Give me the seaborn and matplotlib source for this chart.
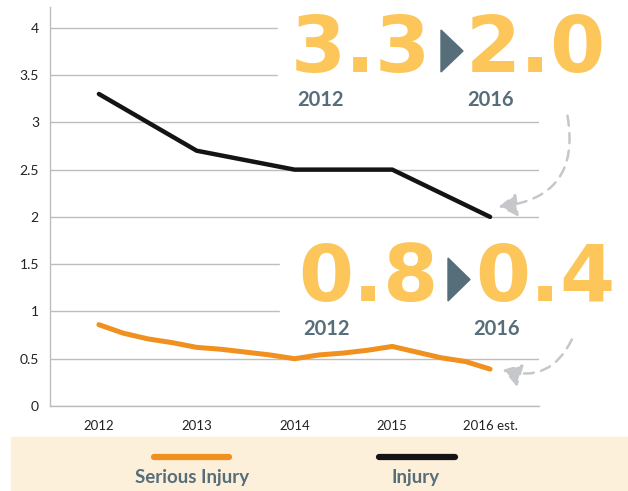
import matplotlib

matplotlib.use("Agg")

import matplotlib.pyplot as plt
import seaborn as sns
from matplotlib.lines import Line2D
from matplotlib.patches import FancyArrowPatch, Polygon, Rectangle

years = ["2012", "2013", "2014", "2015", "2016 est."]
injury = [3.3, 2.7, 2.5, 2.5, 2.0]

serious_x = [0, 0.25, 0.5, 0.75, 1, 1.25, 1.5, 1.75, 2, 2.25, 2.5, 2.75, 3, 3.25, 3.5, 3.75, 4]
serious = [0.86, 0.77, 0.71, 0.67, 0.62, 0.60, 0.57, 0.54, 0.50, 0.54, 0.56, 0.59, 0.63, 0.57, 0.51, 0.47, 0.39]

ORANGE = "#F0901E"
BLACK = "#141414"
YELLOW = "#FDC65A"
SLATE = "#566E7A"
GRID = "#BDBDBD"

W, H = 628, 491


def fx(x):
    return x / W


def fy(y):
    return 1 - y / H


sns.set_style("white")
plt.rcParams["font.family"] = ["Lato", "DejaVu Sans"]

fig = plt.figure(figsize=(6.28, 4.91), dpi=100)
ax = fig.add_axes([fx(50), fy(406), fx(539) - fx(50), fy(7) - fy(406)])

sns.lineplot(x=list(range(len(years))), y=injury, color=BLACK, linewidth=3.2, ax=ax)
sns.lineplot(x=serious_x, y=serious, color=ORANGE, linewidth=3.6, ax=ax)

ax.set_xlim(-0.5, 4.5)
ax.set_ylim(0, 4.22)
ax.set_yticks([0, 0.5, 1, 1.5, 2, 2.5, 3, 3.5, 4])
ax.set_yticklabels(["0", "0.5", "1", "1.5", "2", "2.5", "3", "3.5", "4"])
ax.set_xticks(range(len(years)))
ax.set_xticklabels(years)
ax.set_xticks([-0.5, 0.5, 1.5, 2.5, 3.5, 4.5], minor=True)
ax.tick_params(axis="x", which="major", length=0, pad=10, labelsize=9.5, labelcolor="#222222")
ax.tick_params(axis="x", which="minor", length=5, color=GRID, width=1)
ax.tick_params(axis="y", length=5, color=GRID, width=1, labelsize=10, labelcolor="#222222", pad=3)
ax.grid(axis="y", color=GRID, linewidth=1)
ax.set_axisbelow(True)
for side in ["top", "right"]:
    ax.spines[side].set_visible(False)
for side in ["left", "bottom"]:
    ax.spines[side].set_color(GRID)
    ax.spines[side].set_linewidth(1)

# white panels behind the callouts
for x0, y0, y1 in [(278, 0, 110), (280, 232, 338)]:
    fig.add_artist(Rectangle((fx(x0), fy(y1)), fx(W) - fx(x0), fy(y0) - fy(y1),
                             transform=fig.transFigure, color="white", zorder=1))

# legend band
fig.add_artist(Rectangle((fx(11), 0), 1 - fx(11), fy(437), transform=fig.transFigure,
                         color="#FDF0DB", zorder=1))
fig.add_artist(Line2D([fx(154), fx(229)], [fy(457), fy(457)], color=ORANGE, linewidth=4.5,
                      solid_capstyle="round", zorder=2))
fig.add_artist(Line2D([fx(379), fx(455)], [fy(457), fy(457)], color=BLACK, linewidth=4.5,
                      solid_capstyle="round", zorder=2))
fig.text(fx(192), fy(483), "Serious Injury", ha="center", va="baseline", fontsize=13.5,
         fontweight="bold", color=SLATE, zorder=3)
fig.text(fx(416), fy(483), "Injury", ha="center", va="baseline", fontsize=13.5,
         fontweight="bold", color=SLATE, zorder=3)

# callouts
callouts = [
    ("3.3", "2.0", 361, 536, 72, 452, 30, 320, 491, 106),
    ("0.8", "0.4", 368, 545, 301, 459, 258, 326, 497, 335),
]
for a, b, xa, xb, base, tri_x, tri_top, ya, yb, ybase in callouts:
    for txt, xc in [(a, xa), (b, xb)]:
        fig.text(fx(xc), fy(base), txt, ha="center", va="baseline", fontsize=57,
                 fontweight="bold", family="DejaVu Sans", color=YELLOW, zorder=3)
    tri = [(fx(tri_x - 11), fy(tri_top)), (fx(tri_x - 11), fy(base)),
           (fx(tri_x + 11), fy((tri_top + base) / 2))]
    fig.add_artist(Polygon(tri, closed=True, transform=fig.transFigure, color=SLATE, zorder=3))
    fig.text(fx(ya), fy(ybase), "2012", ha="center", va="baseline", fontsize=14.5,
             fontweight="bold", color=SLATE, zorder=3)
    fig.text(fx(yb), fy(ybase), "2016", ha="center", va="baseline", fontsize=14.5,
             fontweight="bold", color=SLATE, zorder=3)

# dashed curved arrows
for start, end, rad in [((567, 113), (496, 207), -0.55), ((573, 337), (500, 369), -0.45)]:
    arr = FancyArrowPatch((fx(start[0]), fy(start[1])), (fx(end[0]), fy(end[1])),
                          transform=fig.transFigure, connectionstyle=f"arc3,rad={rad}",
                          arrowstyle="-|>,head_length=11,head_width=7", linestyle=(0, (4, 3)),
                          color="#C5C7CA", linewidth=1.8, zorder=3)
    fig.add_artist(arr)

fig.savefig("out.png", dpi=100)
